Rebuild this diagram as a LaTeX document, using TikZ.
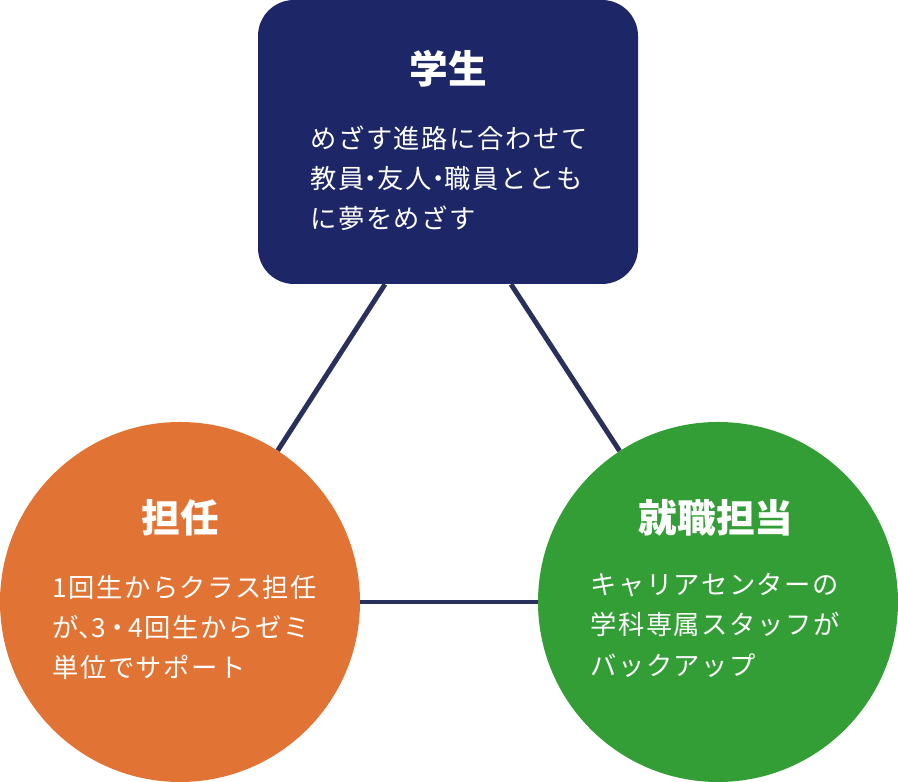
\documentclass[tikz,border=0pt]{standalone}
\usepackage{fontspec}
\setmainfont{Noto Sans CJK JP}
\newfontfamily\jpbody[LetterSpace=6]{Noto Sans CJK JP}
\usetikzlibrary{calc}

\definecolor{navy}{RGB}{29,38,102}
\definecolor{linknavy}{RGB}{41,48,92}
\definecolor{tanninorange}{RGB}{225,116,52}
\definecolor{careergreen}{RGB}{51,158,54}

% half-width punctuation
\newcommand\halfw[1]{{\addfontfeature{RawFeature=+halt}#1}}

\begin{document}
\begin{tikzpicture}[
    rolebox/.style={
        rectangle,
        fill=navy,
        minimum width=9.5cm,
        minimum height=7.1cm,
        rounded corners=0.9cm
    },
    rolecircle/.style={
        circle,
        minimum size=9cm,
        inner sep=0pt
    },
    title/.style={
        text=white,
        font=\fontsize{27.5}{32}\selectfont\bfseries
    },
    body/.style={
        text=white,
        align=left,
        inner sep=0pt,
        anchor=north west,
        font=\jpbody\fontsize{18.7}{28.5}\selectfont
    },
    link/.style={
        linknavy,
        line width=3.5pt
    }
]
\useasboundingbox (0,0) rectangle (22.45,19.55);

% Role shapes
\node[rolebox] (student) at (11.2, 16.0) {};
\node[rolecircle, fill=tanninorange] (tannin) at (4.5, 4.5) {};
\node[rolecircle, fill=careergreen] (career) at (17.95, 4.5) {};

% Links between roles
\draw[link] ($(student.south)+(-1.575,0)$) -- (tannin);
\draw[link] ($(student.south)+(1.575,0)$) -- (career);
\draw[link] (tannin) -- (career);

% Titles
\node[title] (studenttitle) at (11.2, 17.83) {学生};
\node[title] (tannintitle) at (4.5, 6.6) {担任};
\node[title] (careertitle) at (17.9, 6.6) {就職担当};

% Descriptions
\node[body] (studenttext) at (7.75, 16.42) {めざす進路に合わせて\\教員\halfw{・}友人\halfw{・}職員ととも\\に夢をめざす};
\node[body] (tannintext) at (1.3, 5.17) {1回生からクラス担任\\が\halfw{、}3\,\halfw{・}\,4回生からゼミ\\単位でサポート};
\node[body] (careertext) at (14.75, 5.22) {キャリアセンターの\\学科専属スタッフが\\バックアップ};

\end{tikzpicture}
\end{document}
